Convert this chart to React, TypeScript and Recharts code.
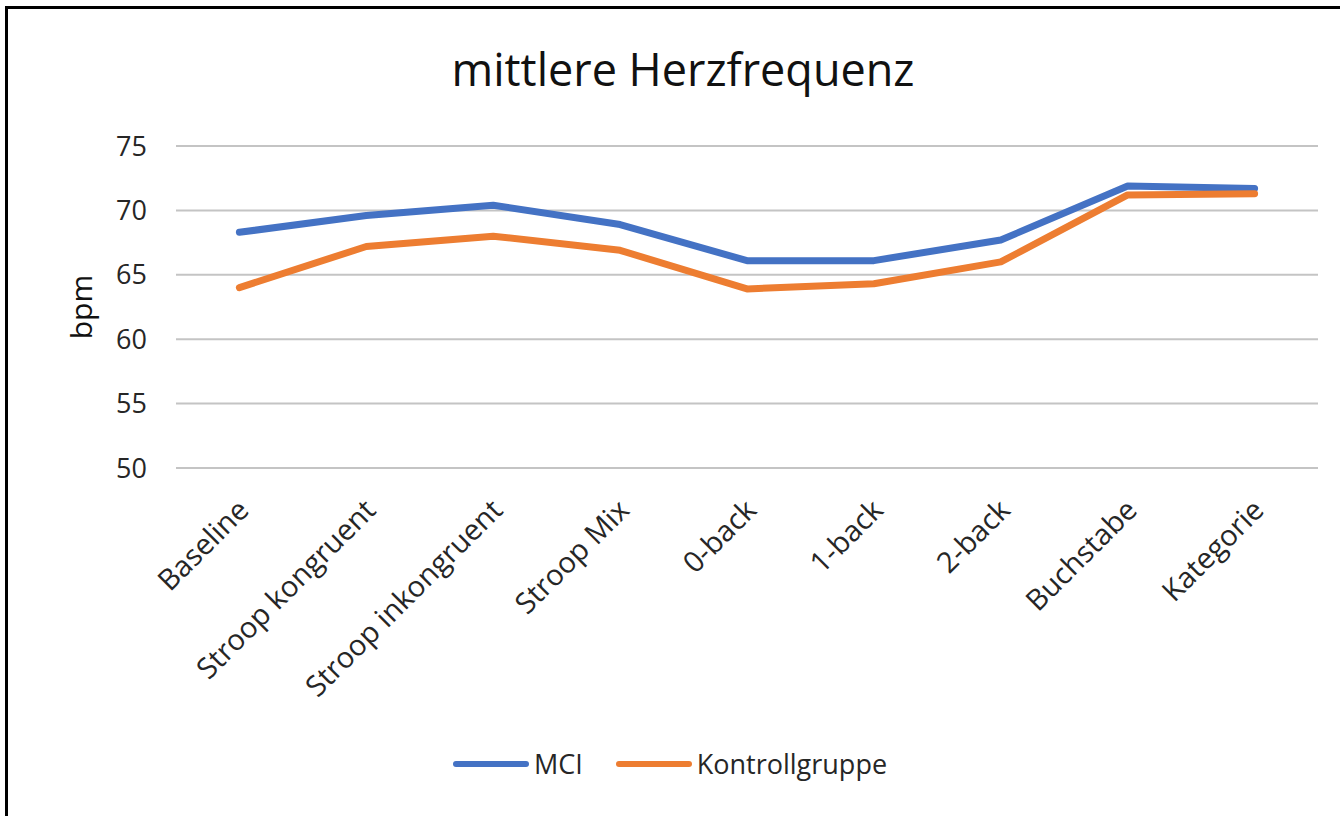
import { LineChart, Line, XAxis, YAxis, CartesianGrid, Legend } from 'recharts';

// Kategorien und Mittelwerte (bpm)
const categories = ['Baseline', 'Stroop kongruent', 'Stroop inkongruent', 'Stroop Mix', '0-back', '1-back', '2-back', 'Buchstabe', 'Kategorie'];
const mciValues = [68.3, 69.6, 70.4, 68.9, 66.1, 66.1, 67.7, 71.9, 71.7];
const kontrollValues = [64.0, 67.2, 68.0, 66.9, 63.9, 64.3, 66.0, 71.2, 71.3];
const yTicks = [50, 55, 60, 65, 70, 75];

const series = [
  { key: 'mci', name: 'MCI', color: '#4472C4' },
  { key: 'kontroll', name: 'Kontrollgruppe', color: '#ED7D31' },
];

const data = categories.map((name, i) => ({
  name,
  mci: mciValues[i],
  kontroll: kontrollValues[i],
}));

const FONT = '"Open Sans", sans-serif';

const XTick = ({ x, y, payload }: any) => (
  <g transform={`translate(${x + 11}, ${y + 44}) rotate(-45)`}>
    <text x={0} y={0} textAnchor="end" fontSize={29} fontFamily={FONT} fill="#262626">
      {payload.value}
    </text>
  </g>
);

const LegendContent = () => (
  <div style={{ display: 'flex', justifyContent: 'center', alignItems: 'center', gap: 33, fontFamily: FONT, fontSize: 27, color: '#262626' }}>
    {series.map(s => (
      <div key={s.key} style={{ display: 'flex', alignItems: 'center' }}>
        <svg width={76} height={10}>
          <line x1={3} y1={5} x2={73} y2={5} stroke={s.color} strokeWidth={6} strokeLinecap="round" />
        </svg>
        <span style={{ marginLeft: 5 }}>{s.name}</span>
      </div>
    ))}
  </div>
);

export default function App() {
  return (
    <div style={{ position: 'absolute', left: 0, top: 0, width: 1340, height: 816, background: '#fff', overflow: 'hidden' }}>
      {/* Rahmen oben/links */}
      <div style={{ position: 'absolute', left: 5, top: 6, right: -10, bottom: -10, borderTop: '3px solid #000', borderLeft: '3px solid #000' }} />
      <div style={{ position: 'absolute', left: 0, width: 1366, top: 47, textAlign: 'center', fontFamily: FONT, fontSize: 45, lineHeight: '44px', color: '#111' }}>
        mittlere Herzfrequenz
      </div>
      <div style={{ position: 'absolute', left: 0, top: 0 }}>
        <LineChart width={1340} height={816} data={data} margin={{ top: 146, right: 22, bottom: 148, left: 0 }}>
          <CartesianGrid vertical={false} stroke="#c4c4c4" strokeWidth={2} />
          <XAxis
            dataKey="name"
            interval={0}
            axisLine={false}
            tickLine={false}
            tickSize={0}
            tickMargin={0}
            height={200}
            padding={{ left: 63.4, right: 63.4 }}
            tick={<XTick />}
          />
          <YAxis
            domain={[50, 75]}
            ticks={yTicks}
            width={176}
            axisLine={false}
            tickLine={false}
            tickSize={0}
            tickMargin={29}
            tick={{ fontSize: 27, fontFamily: FONT, fill: '#262626' }}
            label={{ value: 'bpm', angle: -90, position: 'center', dx: -7, fontSize: 30, fontFamily: FONT, fill: '#111' }}
          />
          <Legend
            layout="horizontal"
            verticalAlign="middle"
            align="center"
            content={<LegendContent />}
            wrapperStyle={{ left: 0, top: 745, width: 1340 }}
          />
          {series.map(s => (
            <Line
              key={s.key}
              type="linear"
              dataKey={s.key}
              name={s.name}
              stroke={s.color}
              strokeWidth={7}
              strokeLinecap="round"
              strokeLinejoin="round"
              dot={false}
              activeDot={false}
              isAnimationActive={false}
            />
          ))}
        </LineChart>
      </div>
    </div>
  );
}
